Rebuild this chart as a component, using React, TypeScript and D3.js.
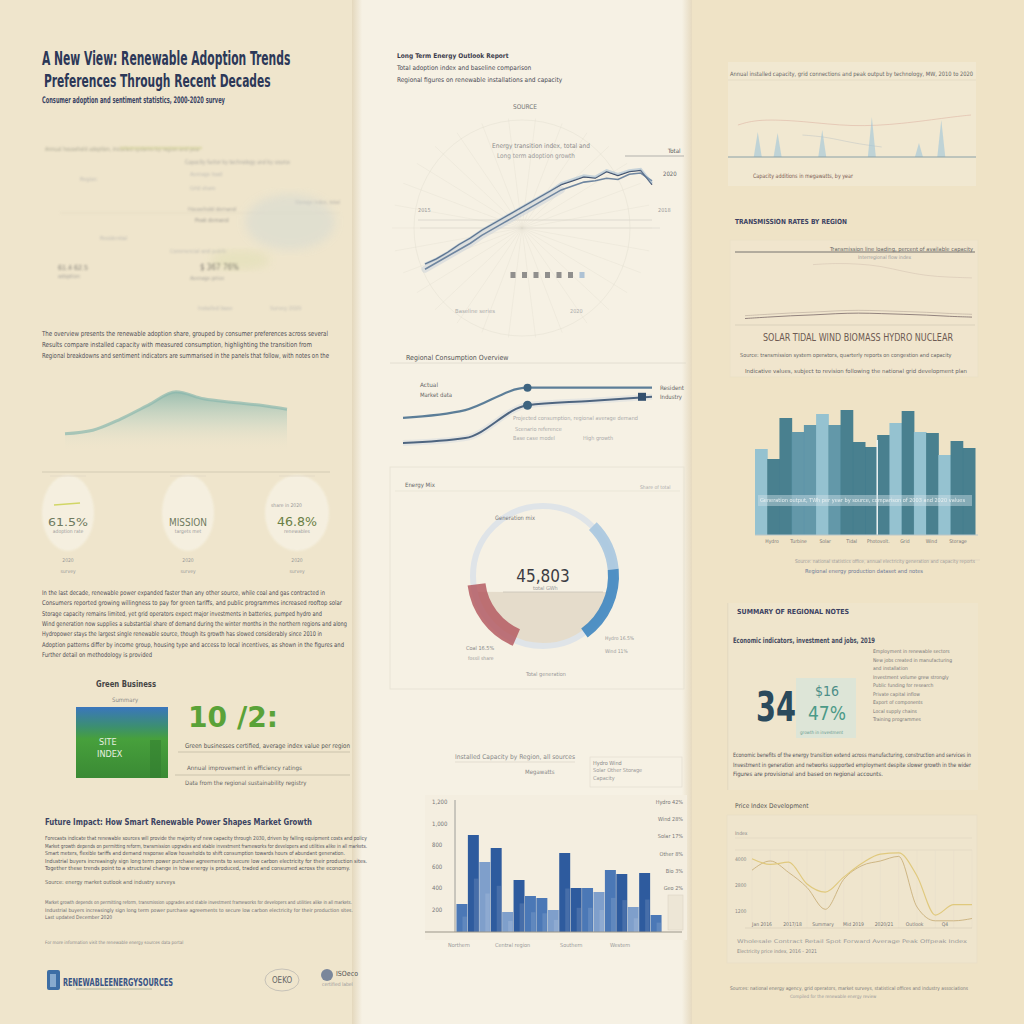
import * as d3 from "d3";

// ---------- data ----------
const titleLines = ["A New View: Renewable Adoption Trends", "Preferences Through Recent Decades"];
const subtitle = "Consumer adoption and sentiment statistics, 2000-2020 survey";

const trendYears = d3.range(2000, 2021);
const trendTotal = [20, 24, 29, 35, 40, 46, 51, 56, 61, 66, 71, 76, 81, 84, 87, 86, 91, 88, 91, 92, 81];
const trendBase = [16, 21, 26, 31, 36, 42, 47, 52, 57, 62, 67, 72, 77, 80, 83, 84, 86, 85, 89, 90, 84];
const trendLegend = ["2000", "2004", "2008", "2012", "2016", "2018", "2020"];

const slopeStages = ["1990", "2000", "2010", "2020", "2030"];
const slopeResidential = [46, 57, 89, 89, 89];
const slopeIndustrial = [10, 17, 64, 70, 76];

const mixSources = ["Other", "Wind", "Hydro", "Storage", "Coal", "Unallocated"];
const mixShares = [12.5, 11, 16.5, 16.5, 16.5, 27];
const mixTotal = "45,803";
const reservoirDepth = 0.23;

const capacityRegions = ["N1", "N2", "N3", "N4", "E1", "E2", "E3", "E4", "E5", "C1", "C2", "C3", "S1", "S2", "S3", "S4", "W1", "W2"];
const capacityValues = [28, 97, 70, 84, 20, 52, 36, 34, 22, 79, 44, 44, 40, 62, 58, 25, 59, 17];
const capacitySource = ["Wind", "Hydro", "Solar", "Hydro", "Solar", "Hydro", "Wind", "Wind", "Solar", "Hydro", "Hydro", "Wind", "Solar", "Wind", "Hydro", "Solar", "Hydro", "Wind"];
const capacityTicksLeft = ["1,200", "1,000", "800", "600", "400", "200"];
const capacityTicksRight = ["Hydro 42%", "Wind 28%", "Solar 17%", "Other 8%", "Bio 3%", "Geo 2%"];

const outputYears = ["2003", "2004", "2005", "2006", "2007", "2008", "2009", "2010", "2011", "2012", "2013", "2014", "2015", "2016", "2017", "2018", "2019", "2020"];
const outputValues = [86, 76, 117, 103, 110, 121, 110, 125, 93, 88, 100, 112, 124, 103, 102, 80, 94, 87];
const outputSource = ["Solar", "Hydro", "Hydro", "Wind", "Wind", "Solar", "Wind", "Hydro", "Hydro", "Hydro", "Hydro", "Solar", "Hydro", "Solar", "Hydro", "Solar", "Hydro", "Hydro"];
const outputLabels = ["Hydro", "Turbine", "Solar", "Tidal", "Photovolt.", "Grid", "Wind", "Storage"];

const spikePos = [0.12, 0.2, 0.38, 0.58, 0.77, 0.86];
const spikeValues = [25, 24, 27, 40, 14, 37];

const ridgeSteps = d3.range(9);
const ridgeValues = [26, 31, 47, 67, 86, 76, 71, 67, 61];

const priceMonths = d3.range(13);
const priceA = [62, 57, 59, 40, 33, 46, 58, 66, 67, 47, 13, 22, 22];
const priceB = [52, 60, 50, 37, 18, 44, 56, 60, 64, 20, 8, 8, 10];
const priceTicks = ["Index", "4000", "2800", "1200"];
const priceLabels = ["Jan 2016", "2017/18", "Summary", "Mid 2019", "2020/21", "Outlook", "Q4"];

const transmissionA = [5, 7, 9, 10, 12, 13, 12, 11, 10, 8, 7];
const transmissionB = [82, 84, 83, 80, 72, 66, 64, 63];

const kpis = [
  { value: "61.5%", label: "adoption rate" },
  { value: "MISSION", label: "targets met" },
  { value: "46.8%", label: "renewables" },
];

const sourceNames = "SOLAR   TIDAL   WIND   BIOMASS   HYDRO   NUCLEAR";

const reportHeader = [
  "Long Term Energy Outlook Report",
  "Total adoption index and baseline comparison",
  "Regional figures on renewable installations and capacity",
];

const paraA = [
  "The overview presents the renewable adoption share, grouped by consumer preferences across several decades of household and industry survey data.",
  "Results compare installed capacity with measured consumption, highlighting the transition from fossil generation to clean sources in every region.",
  "Regional breakdowns and sentiment indicators are summarised in the panels that follow, with notes on the methods used for each survey wave.",
];
const paraB = [
  "In the last decade, renewable power expanded faster than any other source, while coal and gas contracted in most of the surveyed markets and regions.",
  "Consumers reported growing willingness to pay for green tariffs, and public programmes increased rooftop solar installations in towns and cities.",
  "Storage capacity remains limited, yet grid operators expect major investments in batteries, pumped hydro and interconnectors in coming years.",
  "Wind generation now supplies a substantial share of demand during the winter months in the northern regions and along the coastline areas.",
  "Hydropower stays the largest single renewable source, though its growth has slowed considerably since 2010 in every surveyed country.",
  "Adoption patterns differ by income group, housing type and access to local incentives, as shown in the figures and tables of this report.",
  "Further detail on methodology is provided in the appendix.",
];
const paraC = [
  "Forecasts indicate that renewable sources will provide the majority of new capacity through 2030, driven by falling equipment costs and policy support for clean power.",
  "Market growth depends on permitting reform, transmission upgrades and stable investment frameworks for developers and utilities alike in all markets.",
  "Smart meters, flexible tariffs and demand response allow households to shift consumption towards hours of abundant generation.",
  "Industrial buyers increasingly sign long term power purchase agreements to secure low carbon electricity for their production sites.",
  "Together these trends point to a structural change in how energy is produced, traded and consumed across the economy.",
];
const rightNotes = ["Employment in renewable sectors", "New jobs created in manufacturing", "and installation", "Investment volume grew strongly", "Public funding for research", "Private capital inflow", "Export of components", "Local supply chains", "Training programmes"];
const rightPara = [
  "Economic benefits of the energy transition extend across manufacturing, construction and services in all regions.",
  "Investment in generation and networks supported employment despite slower growth in the wider economy.",
  "Figures are provisional and based on regional accounts.",
];

// ---------- helpers ----------
const NARROW = "'Liberation Sans Narrow', 'DejaVu Sans Condensed', 'Arial Narrow', sans-serif";
const BODY = "#4f4f57";

// estimated natural width of a narrow-font string
const est = (t: string, size: number, weight: number) => t.length * size * (weight >= 700 ? 0.47 : 0.43);

function fit(t: string, w: number, size: number, weight: number) {
  let s = t;
  while (est(s, size, weight) > w * 1.1 && s.includes(" ")) s = s.slice(0, s.lastIndexOf(" "));
  return s;
}

function T({ x, y, w, t, size = 7, fill = BODY, weight = 400, op = 1, anchor = "start", keep = false }: any) {
  const s = w && !keep ? fit(t, w, size, weight) : t;
  const n = est(s, size, weight);
  const useLen = w && (keep || n > w * 0.85);
  return (
    <text x={x} y={y} fontSize={size} fill={fill} fontWeight={weight} opacity={op} fontFamily={NARROW}
      textLength={useLen ? w : undefined} lengthAdjust={useLen ? "spacingAndGlyphs" : undefined} textAnchor={anchor}>{s}</text>
  );
}

// headline text squeezed horizontally with a transform instead of textLength
function Squeezed({ x, y, t, size, sx, fill, weight = 700 }: any) {
  return (
    <text transform={`translate(${x},${y}) scale(${sx},1)`} fontSize={size} fill={fill} fontWeight={weight} fontFamily={NARROW}>{t}</text>
  );
}

function Para({ x, y, lh, widths, lines, size = 7, fill = BODY, op = 1 }: any) {
  return (
    <g>
      {lines.map((l: string, i: number) => (
        <T key={i} x={x} y={y + i * lh} w={widths[i % widths.length]} t={l} size={size} fill={fill} op={op} />
      ))}
    </g>
  );
}

function TrendChart() {
  const x = d3.scaleLinear().domain([2000, 2020]).range([425, 652]);
  const y = d3.scaleLinear().domain([0, 100]).range([290, 160]);
  const line = d3.line<number>().x((_, i) => x(trendYears[i])).y((d) => y(d)).curve(d3.curveLinear);
  const legendX = d3.scalePoint().domain(trendLegend).range([513, 582]);
  const cx = 522, cy = 228;
  return (
    <g>
      <circle cx={cx} cy={cy} r={108} fill="none" stroke="#e4dfd2" strokeWidth={1} opacity={0.5} />
      {d3.range(0, 360, 12).map((a) => (
        <line key={a} x1={cx} y1={cy} x2={cx + 130 * Math.cos((a * Math.PI) / 180)} y2={cy + 110 * Math.sin((a * Math.PI) / 180)}
          stroke="#dcd7ca" strokeWidth={0.6} opacity={0.45} />
      ))}
      <line x1={418} y1={220} x2={652} y2={220} stroke="#d9d5ca" strokeWidth={0.8} />
      <line x1={420} y1={228} x2={660} y2={228} stroke="#e1ddd2" strokeWidth={0.8} />
      <path d={line(trendBase.slice(0, 13)) || ""} fill="none" stroke="#c7d0d8" strokeWidth={7} opacity={0.5} strokeLinecap="round" />
      <path d={line(trendBase) || ""} fill="none" stroke="#6f86a0" strokeWidth={1.6} />
      <path d={line(trendTotal) || ""} fill="none" stroke="#34425e" strokeWidth={1.3} />
      <path d={line(trendTotal.map((v, i) => (i > 11 ? v + 1 : v))) || ""} fill="none" stroke="#8fb0cc" strokeWidth={2.5} opacity={0.45} />
      {trendLegend.map((k, i) => (
        <rect key={k} x={(legendX(k) as number) - 2.5} y={272} width={5} height={6}
          fill={i === trendLegend.length - 1 ? "#9cb6cf" : "#777"} opacity={0.8} />
      ))}
      <T x={525} y={109} w={30} t="SOURCE" size={6.5} fill="#777" anchor="middle" />
      <T x={492} y={148} w={98} t="Energy transition index, total and base" size={6.5} fill="#8a8a8a" />
      <T x={497} y={158} w={78} t="Long term adoption growth" size={6.5} fill="#999" />
      <T x={668} y={153} w={16} t="Total" size={6} fill="#555" />
      <line x1={625} y1={156} x2={684} y2={156} stroke="#888" strokeWidth={0.6} />
      <T x={663} y={176} w={20} t="2020" size={6} fill="#666" />
      <T x={418} y={212} w={16} t="2015" size={5.5} fill="#999" />
      <T x={658} y={212} w={16} t="2018" size={5.5} fill="#999" />
      <T x={455} y={313} w={40} t="Baseline series" size={5.5} fill="#aaa" />
      <T x={570} y={313} w={22} t="2020" size={5.5} fill="#aaa" />
    </g>
  );
}

function SlopeChart() {
  const x = d3.scalePoint().domain(slopeStages).range([403, 652]);
  const y = d3.scaleLinear().domain([0, 100]).range([450, 380]);
  const line = d3.line<number>().x((_, i) => x(slopeStages[i]) as number).y((d) => y(d)).curve(d3.curveMonotoneX);
  return (
    <g>
      <path d={line(slopeIndustrial) || ""} fill="none" stroke="#d5dbe0" strokeWidth={6} opacity={0.5} />
      <path d={line(slopeResidential) || ""} fill="none" stroke="#5c7e98" strokeWidth={2.2} />
      <path d={line(slopeIndustrial) || ""} fill="none" stroke="#4e6580" strokeWidth={2} />
      <circle cx={x(slopeStages[2])} cy={y(slopeResidential[2])} r={4} fill="#3e6480" />
      <circle cx={x(slopeStages[2])} cy={y(slopeIndustrial[2])} r={4.5} fill="#3e6480" />
      <rect x={(x(slopeStages[4]) as number) - 14} y={y(slopeIndustrial[4]) - 4} width={8} height={8} fill="#34506e" />
      <T x={420} y={387} w={18} t="Actual" size={6} fill="#666" />
      <T x={420} y={397} w={32} t="Market data" size={6} fill="#666" />
      <T x={660} y={390} w={24} t="Resident" size={6} fill="#666" />
      <T x={660} y={399} w={22} t="Industry" size={6} fill="#666" />
      <T x={513} y={420} w={125} t="Projected consumption, regional average demand" size={5.5} fill="#aaa" />
      <T x={515} y={431} w={60} t="Scenario reference" size={5.5} fill="#aaa" />
      <T x={513} y={440} w={48} t="Base case model" size={5.5} fill="#aaa" />
      <T x={583} y={440} w={34} t="High growth" size={5.5} fill="#aaa" />
    </g>
  );
}

function DonutChart() {
  const cx = 543, cy = 576, r = 70;
  const pie = d3.pie<number>().sort(null).value((d) => d)(mixShares);
  const fills: Record<string, string> = { Wind: "#a9c7df", Hydro: "#3f86c0", Coal: "#b2545b" };
  const phi = Math.asin(reservoirDepth);
  const p = d3.path();
  p.moveTo(r * Math.cos(phi), r * Math.sin(phi));
  p.arc(0, 0, r - 1, phi, Math.PI - phi);
  p.closePath();
  return (
    <g transform={`translate(${cx},${cy})`}>
      <path d={p.toString()} fill="#e5dccb" />
      <circle r={r} fill="none" stroke="#dfe4e8" strokeWidth={6} />
      {pie.map((s, i) => {
        const k = mixSources[i];
        if (!fills[k]) return null;
        const inner = k === "Coal" ? r - 12 : r - 5;
        const arc = d3.arc<any>().innerRadius(inner).outerRadius(r + 6);
        return <path key={k} d={arc(s) || ""} fill={fills[k]} opacity={k === "Coal" ? 0.8 : 0.9} />;
      })}
      <text x={0} y={6} textAnchor="middle" fontSize={17} fontFamily={NARROW} fill="#3b3b42">{mixTotal}</text>
      <line x1={-40} y1={16} x2={60} y2={16} stroke="#c9c3b6" strokeWidth={0.8} />
      <T x={-48} y={-56} w={40} t="Generation mix" size={6} fill="#777" />
      <T x={-10} y={14} w={26} t="total GWh" size={5.5} fill="#999" />
    </g>
  );
}

function CapacityChart() {
  const x = d3.scaleBand().domain(capacityRegions).range([456, 662]).padding(0.04);
  const y = d3.scaleLinear().domain([0, 120]).range([932, 812]);
  const color = d3.scaleOrdinal<string>().domain(["Hydro", "Wind", "Solar"]).range(["#2e5b9e", "#4b78b6", "#7f9fcb"]);
  const tickY = d3.scalePoint().domain(capacityTicksLeft).range([802, 910]);
  const tickYR = d3.scalePoint().domain(capacityTicksRight).range([802, 888]);
  return (
    <g>
      <rect x={425} y={795} width={262} height={145} fill="#f4eee0" />
      <line x1={455} y1={800} x2={455} y2={932} stroke="#888" strokeWidth={0.8} />
      {capacityRegions.map((c, i) => (
        <g key={c}>
          <rect x={x(c)} y={y(capacityValues[i])} width={x.bandwidth()} height={932 - y(capacityValues[i])}
            fill={color(capacitySource[i])} />
          <rect x={(x(c) as number) + x.bandwidth() * 0.55} y={y(capacityValues[i] * 0.55)} width={x.bandwidth() * 0.4}
            height={932 - y(capacityValues[i] * 0.55)} fill="#ffffff" opacity={0.12} />
        </g>
      ))}
      <line x1={425} y1={932} x2={682} y2={932} stroke="#9a9588" strokeWidth={1} />
      {capacityTicksLeft.map((t) => (
        <T key={t} x={432} y={(tickY(t) as number) + 2} t={t} size={6} fill="#777" />
      ))}
      {capacityTicksRight.map((t) => (
        <T key={t} x={683} y={(tickYR(t) as number) + 2} t={t} size={5.5} fill="#777" anchor="end" />
      ))}
      <rect x={668} y={895} width={15} height={35} fill="#ede6d6" stroke="#d8d0c0" strokeWidth={0.5} />
      <T x={448} y={947} t="Northern" size={5.5} fill="#999" />
      <T x={495} y={947} t="Central region" size={5.5} fill="#999" />
      <T x={560} y={947} t="Southern" size={5.5} fill="#999" />
      <T x={610} y={947} t="Western" size={5.5} fill="#999" />
    </g>
  );
}

function OutputChart() {
  const x = d3.scaleBand().domain(outputYears).range([755, 975]).padding(0);
  const y = d3.scaleLinear().domain([0, 140]).range([535, 395]);
  const color = d3.scaleOrdinal<string>().domain(["Hydro", "Wind", "Solar"]).range(["#3f7a8c", "#5b93a8", "#8fc0d1"]);
  const lx = d3.scalePoint().domain(outputLabels).range([772, 958]);
  return (
    <g>
      {outputYears.map((yr, i) => (
        <rect key={yr} x={x(yr)} y={y(outputValues[i])} width={x.bandwidth() + 0.5} height={535 - y(outputValues[i])}
          fill={color(outputSource[i])} opacity={0.95} />
      ))}
      <line x1={(x("2012") as number) + x.bandwidth()} y1={440} x2={(x("2012") as number) + x.bandwidth()} y2={535}
        stroke="#eef3f3" strokeWidth={1.5} />
      <rect x={758} y={495} width={214} height={11} fill="#cfe0e6" opacity={0.45} />
      <T x={760} y={502} w={205} t="Generation output, TWh per year by source, comparison of 2003 and 2020 values" size={5.5} fill="#f1f5f5" op={0.9} />
      <line x1={755} y1={535} x2={978} y2={535} stroke="#b9c7c9" strokeWidth={1} />
      {outputLabels.map((l) => (
        <T key={l} x={lx(l)} y={543} t={l} size={5} fill="#777" anchor="middle" />
      ))}
      <line x1={795} y1={560} x2={980} y2={560} stroke="#d6cfbd" strokeWidth={0.6} />
      <T x={795} y={563} w={180} t="Source: national statistics office, annual electricity generation and capacity reports" size={5} fill="#999" />
      <T x={805} y={573} w={118} t="Regional energy production dataset and notes" size={5.5} fill="#6e7a99" />
    </g>
  );
}

function SpikeChart() {
  const x = d3.scaleLinear().domain([0, 1]).range([728, 976]);
  const y = d3.scaleLinear().domain([0, 45]).range([157, 112]);
  const trend = d3.line<[number, number]>().x((d) => x(d[0])).y((d) => y(d[1])).curve(d3.curveBasis);
  return (
    <g>
      <rect x={728} y={62} width={248} height={124} fill="#f2e9d6" opacity={0.7} />
      <T x={730} y={76} w={243} t="Annual installed capacity, grid connections and peak output by technology, MW, 2010 to 2020" size={6} fill="#666" />
      <line x1={728} y1={80} x2={976} y2={80} stroke="#ddd3bf" strokeWidth={0.6} />
      <path d={trend([[0.04, 32], [0.12, 38], [0.3, 36], [0.5, 30], [0.7, 33], [0.9, 40], [0.98, 42]]) || ""}
        fill="none" stroke="#d9a99a" strokeWidth={0.8} opacity={0.6} />
      <path d={trend([[0.3, 22], [0.4, 20], [0.5, 14], [0.62, 10]]) || ""} fill="none" stroke="#9ab" strokeWidth={0.6} opacity={0.5} />
      {spikePos.map((p, i) => (
        <path key={i} d={`M${x(p) - 4},157 L${x(p)},${y(spikeValues[i])} L${x(p) + 4},157 Z`} fill="#9ec4d8" opacity={0.6} />
      ))}
      <line x1={728} y1={157} x2={976} y2={157} stroke="#8aa0a6" strokeWidth={1} />
      <T x={753} y={178} w={100} t="Capacity additions in megawatts, by year" size={6} fill="#7a5a52" />
    </g>
  );
}

function FlowPanel() {
  const x = d3.scaleLinear().domain([0, 10]).range([745, 972]);
  const y = d3.scaleLinear().domain([0, 100]).range([322, 252]);
  const l = d3.line<number>().x((_, i) => x(i)).y((d) => y(d)).curve(d3.curveBasis);
  return (
    <g>
      <rect x={730} y={240} width={248} height={137} fill="#f1e8d4" opacity={0.5} stroke="#e3d9c4" strokeWidth={0.6} />
      <line x1={735} y1={252} x2={975} y2={252} stroke="#555" strokeWidth={0.8} />
      <T x={830} y={251} w={143} t="Transmission line loading, percent of available capacity" size={5.5} fill="#666" />
      <T x={858} y={259} w={70} t="Interregional flow index" size={5} fill="#999" />
      <path d={l(transmissionB) || ""} transform="translate(68,0)" fill="none" stroke="#c9b8a8" strokeWidth={0.7} opacity={0.6} />
      <path d={l(transmissionA) || ""} fill="none" stroke="#7a6a6a" strokeWidth={0.8} />
      <path d={l(transmissionA.map((v) => v + 4)) || ""} fill="none" stroke="#b7a79a" strokeWidth={0.6} />
      <line x1={735} y1={325} x2={975} y2={325} stroke="#cfc5b0" strokeWidth={0.6} />
      <T x={763} y={341} w={190} t={sourceNames} size={10} fill="#6d5a52" keep />
      <T x={740} y={357} w={233} t="Source: transmission system operators, quarterly reports on congestion and capacity" size={5.5} fill="#666" />
      <T x={745} y={373} w={222} t="Indicative values, subject to revision following the national grid development plan" size={5.5} fill="#666" />
    </g>
  );
}

function RidgeChart() {
  const x = d3.scaleLinear().domain([0, 8]).range([65, 287]);
  const y = d3.scaleLinear().domain([0, 100]).range([452, 382]);
  const area = d3.area<number>().x((_, i) => x(ridgeSteps[i])).y0(452).y1((d) => y(d)).curve(d3.curveMonotoneX);
  const top = d3.line<number>().x((_, i) => x(ridgeSteps[i])).y((d) => y(d)).curve(d3.curveMonotoneX);
  return (
    <g>
      <path d={area(ridgeValues) || ""} fill="url(#ridgeFill)" />
      <path d={top(ridgeValues) || ""} fill="none" stroke="#8ab8ae" strokeWidth={3} opacity={0.7} />
    </g>
  );
}

function PriceChart() {
  const x = d3.scaleLinear().domain([0, 12]).range([752, 972]);
  const y = d3.scaleLinear().domain([0, 100]).range([930, 815]);
  const l = d3.line<number>().x((_, i) => x(priceMonths[i])).y((d) => y(d)).curve(d3.curveMonotoneX);
  const ty = d3.scalePoint().domain(priceTicks).range([835, 913]);
  const lx = d3.scalePoint().domain(priceLabels).range([762, 945]);
  return (
    <g>
      <rect x={727} y={815} width={250} height={148} fill="#f0e7d3" opacity={0.6} stroke="#e2d8c3" strokeWidth={0.6} />
      <line x1={735} y1={838} x2={972} y2={838} stroke="#ddd3c0" strokeWidth={0.6} />
      <line x1={735} y1={850} x2={972} y2={850} stroke="#ddd3c0" strokeWidth={0.6} />
      {priceTicks.map((t) => (
        <T key={t} x={735} y={ty(t) as number} t={t} size={5} fill="#888" />
      ))}
      {priceMonths.map((m) => (
        <line key={m} x1={x(m)} y1={850} x2={x(m)} y2={928} stroke="#e6dccb" strokeWidth={0.5} />
      ))}
      <path d={l(priceB) || ""} fill="none" stroke="#c9b07a" strokeWidth={0.9} />
      <path d={l(priceA) || ""} fill="none" stroke="#e0c97d" strokeWidth={1.2} />
      <line x1={745} y1={928} x2={972} y2={928} stroke="#d4cab5" strokeWidth={0.6} />
      {priceLabels.map((t) => (
        <T key={t} x={lx(t)} y={926} t={t} size={5} fill="#777" anchor="middle" />
      ))}
      <T x={737} y={943} w={230} t="Wholesale   Contract   Retail   Spot   Forward   Average   Peak   Offpeak   Index" size={5} fill="#999" keep />
      <T x={737} y={953} w={80} t="Electricity price index, 2016 - 2021" size={5} fill="#888" />
    </g>
  );
}

export default function App() {
  return (
    <svg width={1024} height={1024} viewBox="0 0 1024 1024" style={{ position: "absolute", left: 0, top: 0, display: "block" }}>
      <defs>
        <linearGradient id="ridgeFill" x1="0" y1="0" x2="0" y2="1">
          <stop offset="0" stopColor="#7fb1a6" stopOpacity={0.75} />
          <stop offset="0.5" stopColor="#a8c9bd" stopOpacity={0.35} />
          <stop offset="1" stopColor="#f0e6cd" stopOpacity={0} />
        </linearGradient>
        <linearGradient id="leafImg" x1="0" y1="0" x2="0" y2="1">
          <stop offset="0" stopColor="#3a76bd" />
          <stop offset="0.28" stopColor="#3c8f70" />
          <stop offset="0.45" stopColor="#47a03c" />
          <stop offset="1" stopColor="#3a8a34" />
        </linearGradient>
        <linearGradient id="centerShade" x1="0" y1="0" x2="1" y2="0">
          <stop offset="0" stopColor="#e4d8bd" />
          <stop offset="0.03" stopColor="#f6f1e4" />
          <stop offset="0.97" stopColor="#f6f1e4" />
          <stop offset="1" stopColor="#e6dac0" />
        </linearGradient>
        <filter id="soft"><feGaussianBlur stdDeviation="1" /></filter>
        <filter id="blur"><feGaussianBlur stdDeviation="5" /></filter>
      </defs>

      {/* backgrounds */}
      <rect width={1024} height={1024} fill="#efe3c6" />
      <rect x={0} y={0} width={356} height={1024} fill="#efe5cc" />
      <rect x={352} y={0} width={340} height={1024} fill="url(#centerShade)" />

      {/* ---------- left column ---------- */}
      <Squeezed x={42} y={65} t={titleLines[0]} size={19} sx={0.63} fill="#2c3858" />
      <Squeezed x={44} y={87} t={titleLines[1]} size={18} sx={0.66} fill="#2c3858" />
      <Squeezed x={42} y={103} t={subtitle} size={9} sx={0.63} fill="#3a4464" />

      <g opacity={0.7} filter="url(#soft)">
        <T x={45} y={151} w={155} t="Annual household adoption, installed systems by region and year" size={6} fill="#8c8c7a" />
        <line x1={120} y1={148} x2={202} y2={148} stroke="#cfd08e" strokeWidth={2.5} opacity={0.7} />
        <T x={185} y={164} w={105} t="Capacity factor by technology and by source" size={6} fill="#8c8c8c" />
        <T x={80} y={181} t="Region" size={5.5} fill="#aaa" />
        <T x={190} y={176} t="Average load" size={5.5} fill="#aaa" />
        <T x={190} y={190} t="Grid share" size={5.5} fill="#aaa" />
        <T x={295} y={204} w={45} t="Storage index, total" size={5.5} fill="#999" />
        <line x1={60} y1={213} x2={340} y2={213} stroke="#d9d1bd" strokeWidth={0.6} />
        <T x={188} y={211} t="Household demand" size={5.5} fill="#888" />
        <T x={195} y={222} t="Peak demand" size={5.5} fill="#777" />
        <T x={100} y={240} t="Residential" size={5.5} fill="#aaa" />
        <T x={170} y={253} t="Commercial and public" size={5.5} fill="#aaa" />
        <ellipse cx={290} cy={222} rx={45} ry={28} fill="#c6d3d6" opacity={0.5} filter="url(#blur)" />
        <ellipse cx={240} cy={260} rx={30} ry={10} fill="#d8dca6" opacity={0.5} filter="url(#blur)" />
        <T x={58} y={270} t="61.4  62.5" size={7} fill="#555" />
        <T x={58} y={278} t="adoption" size={5.5} fill="#888" />
        <T x={200} y={270} t="$ 367  76%" size={8} fill="#444" />
        <T x={190} y={280} t="Average price" size={5.5} fill="#888" />
        <T x={198} y={310} t="Installed base" size={5.5} fill="#aaa" />
        <T x={270} y={310} t="Survey 2020" size={5.5} fill="#aaa" />
      </g>

      <Para x={42} y={336} lh={11} widths={[286, 270, 287]} lines={paraA} size={7} />

      <RidgeChart />
      <line x1={42} y1={472} x2={330} y2={472} stroke="#cdc5ae" strokeWidth={0.8} />

      {kpis.map((k, i) => {
        const cx = [68, 188, 297][i];
        return (
          <g key={k.value}>
            <ellipse cx={cx} cy={513} rx={i === 2 ? 32 : 26} ry={38} fill="#f6f1e2" opacity={0.9} filter="url(#soft)" />
            <line x1={cx - 18} y1={476} x2={cx + 18} y2={476} stroke="#ddd5c2" strokeWidth={0.6} />
            {i === 0 && <line x1={cx - 14} y1={505} x2={cx + 12} y2={503} stroke="#c9d048" strokeWidth={1.5} opacity={0.8} />}
            {i === 2 && <T x={cx - 26} y={507} t="share in 2020" size={5} fill="#999" />}
            <T x={cx} y={526} w={i === 1 ? 38 : 40} t={k.value} size={i === 2 ? 13 : 10} fill={i === 2 ? "#6a7f45" : "#6f7a60"} anchor="middle" keep />
            <T x={cx} y={533} t={k.label} size={5} fill="#999" anchor="middle" />
            <T x={cx} y={562} t="2020" size={5} fill="#999" anchor="middle" />
            <T x={cx} y={573} t="survey" size={5} fill="#999" anchor="middle" />
          </g>
        );
      })}

      <Para x={42} y={595} lh={10.3} widths={[283, 300, 280, 305, 280, 302, 110]} lines={paraB} size={6.5} />

      <T x={96} y={687} w={60} t="Green Business" size={8} fill="#444" weight={700} />
      <T x={112} y={702} t="Summary" size={6} fill="#888" />
      <rect x={76} y={707} width={92} height={71} fill="url(#leafImg)" />
      <rect x={150} y={740} width={11} height={38} fill="#2f7a2e" opacity={0.5} />
      <T x={99} y={745} t="SITE" size={9} fill="#e8f0e0" />
      <T x={97} y={757} t="INDEX" size={9} fill="#e8f0e0" />
      <T x={188} y={727} w={90} t="10 /2:" size={28} fill="#5aa238" weight={700} keep />
      <T x={185} y={748} w={165} t="Green businesses certified, average index value per region" size={6.5} fill="#555" />
      <line x1={178} y1={752} x2={350} y2={752} stroke="#bdb49e" strokeWidth={0.7} />
      <T x={187} y={770} w={115} t="Annual improvement in efficiency ratings" size={6} fill="#666" />
      <line x1={175} y1={775} x2={350} y2={775} stroke="#bdb49e" strokeWidth={0.7} />
      <T x={185} y={785} w={145} t="Data from the regional sustainability registry" size={6} fill="#666" />

      <T x={45} y={825} w={267} t="Future Impact: How Smart Renewable Power Shapes Market Growth" size={9} fill="#3a4262" weight={700} />
      <Para x={45} y={840} lh={7.6} widths={[322, 322, 300, 322, 305]} lines={paraC} size={5.5} fill="#55555d" />
      <T x={45} y={884} w={148} t="Source: energy market outlook and industry surveys" size={5.5} fill="#666" />
      <Para x={45} y={904} lh={7.5} widths={[307, 308, 98]} lines={[paraC[1], paraC[3], "Last updated December 2020"]} size={5} fill="#66666c" />
      <T x={45} y={944} w={170} t="For more information visit the renewable energy sources data portal" size={4.5} fill="#888" />

      <rect x={47} y={970} width={13} height={20} rx={2} fill="#3d6ea5" />
      <rect x={50} y={974} width={6} height={13} fill="#a7c3df" opacity={0.7} />
      <T x={63} y={986} w={110} t="RENEWABLEENERGYSOURCES" size={11} fill="#3a5586" weight={700} keep />
      <line x1={76} y1={989} x2={152} y2={989} stroke="#a1aa90" strokeWidth={0.8} />
      <ellipse cx={282} cy={980} rx={17} ry={11} fill="none" stroke="#aaa" strokeWidth={0.6} />
      <T x={282} y={983} t="OEKO" size={8} fill="#666" anchor="middle" />
      <circle cx={327} cy={975} r={6} fill="#5d6f8f" opacity={0.8} />
      <T x={336} y={976} t="ISOeco" size={7} fill="#555" />
      <T x={322} y={986} t="certified label" size={5} fill="#999" />

      {/* ---------- center column ---------- */}
      {reportHeader.map((h, i) => (
        <T key={h} x={397} y={58 + i * 12} t={h} size={6.5} fill={i === 0 ? "#3c3c4c" : "#4a4a55"} weight={i === 0 ? 700 : 400} />
      ))}
      <TrendChart />

      <T x={406} y={360} w={105} t="Regional Consumption Overview" size={7} fill="#555" />
      <line x1={390} y1={363} x2={686} y2={363} stroke="#e0dbcc" strokeWidth={0.8} />
      <SlopeChart />

      <rect x={390} y={467} width={294} height={222} fill="none" stroke="#e7e1d2" strokeWidth={0.8} />
      <T x={405} y={487} t="Energy Mix" size={6} fill="#666" />
      <T x={640} y={489} t="Share of total" size={5} fill="#aaa" />
      <line x1={395} y1={491} x2={680} y2={491} stroke="#e6e0d2" strokeWidth={0.6} />
      <DonutChart />
      <T x={466} y={650} t="Coal 16.5%" size={5.5} fill="#888" />
      <T x={468} y={660} t="fossil share" size={5} fill="#999" />
      <T x={605} y={640} t="Hydro 16.5%" size={5} fill="#999" />
      <T x={605} y={653} t="Wind 11%" size={5} fill="#999" />
      <T x={526} y={676} t="Total generation" size={5.5} fill="#999" />

      <T x={455} y={759} w={120} t="Installed Capacity by Region, all sources" size={6.5} fill="#888" />
      <line x1={455} y1={762} x2={575} y2={762} stroke="#d8d2c4" strokeWidth={0.6} />
      <T x={525} y={774} t="Megawatts" size={6} fill="#888" />
      <rect x={590} y={757} width={92} height={30} fill="none" stroke="#e0dace" strokeWidth={0.6} />
      <T x={593} y={765} t="Hydro  Wind" size={5.5} fill="#888" />
      <T x={593} y={772} t="Solar  Other  Storage" size={5.5} fill="#999" />
      <T x={593} y={780} t="Capacity" size={5.5} fill="#999" />
      <CapacityChart />

      {/* ---------- right column ---------- */}
      <SpikeChart />
      <T x={735} y={224} w={112} t="TRANSMISSION RATES BY REGION" size={7} fill="#3c4262" weight={700} keep />
      <FlowPanel />
      <OutputChart />

      <line x1={728} y1={603} x2={728} y2={790} stroke="#d8cfba" strokeWidth={0.8} />
      <rect x={728} y={603} width={250} height={187} fill="#f0e7d2" opacity={0.5} />
      <T x={737} y={614} w={112} t="SUMMARY OF REGIONAL NOTES" size={7} fill="#3c4262" weight={700} keep />
      <T x={733} y={643} w={142} t="Economic indicators, investment and jobs, 2019" size={7.5} fill="#444a60" weight={700} keep />
      <rect x={796} y={678} width={60} height={60} fill="#d6e6dc" opacity={0.7} />
      <T x={756} y={721} w={40} t="34" size={40} fill="#2b4a5c" weight={700} keep />
      <T x={815} y={696} t="$16" size={14} fill="#4d8e88" />
      <T x={808} y={720} t="47%" size={19} fill="#4b9a88" />
      <T x={800} y={734} t="growth in investment" size={4.5} fill="#6a9a90" />
      <Para x={873} y={653} lh={8.5} widths={[100, 95, 60, 95, 100, 80, 75, 65, 58]} lines={rightNotes} size={5} fill="#777" />
      <Para x={733} y={757} lh={9.5} widths={[238, 238, 150]} lines={rightPara} size={6} />

      <T x={735} y={808} w={82} t="Price Index Development" size={6.5} fill="#555" />
      <PriceChart />
      <T x={730} y={990} w={238} t="Sources: national energy agency, grid operators, market surveys, statistical offices and industry associations" size={5} fill="#777" />
      <T x={790} y={998} w={100} t="Compiled for the renewable energy review" size={4.5} fill="#999" />
    </svg>
  );
}
